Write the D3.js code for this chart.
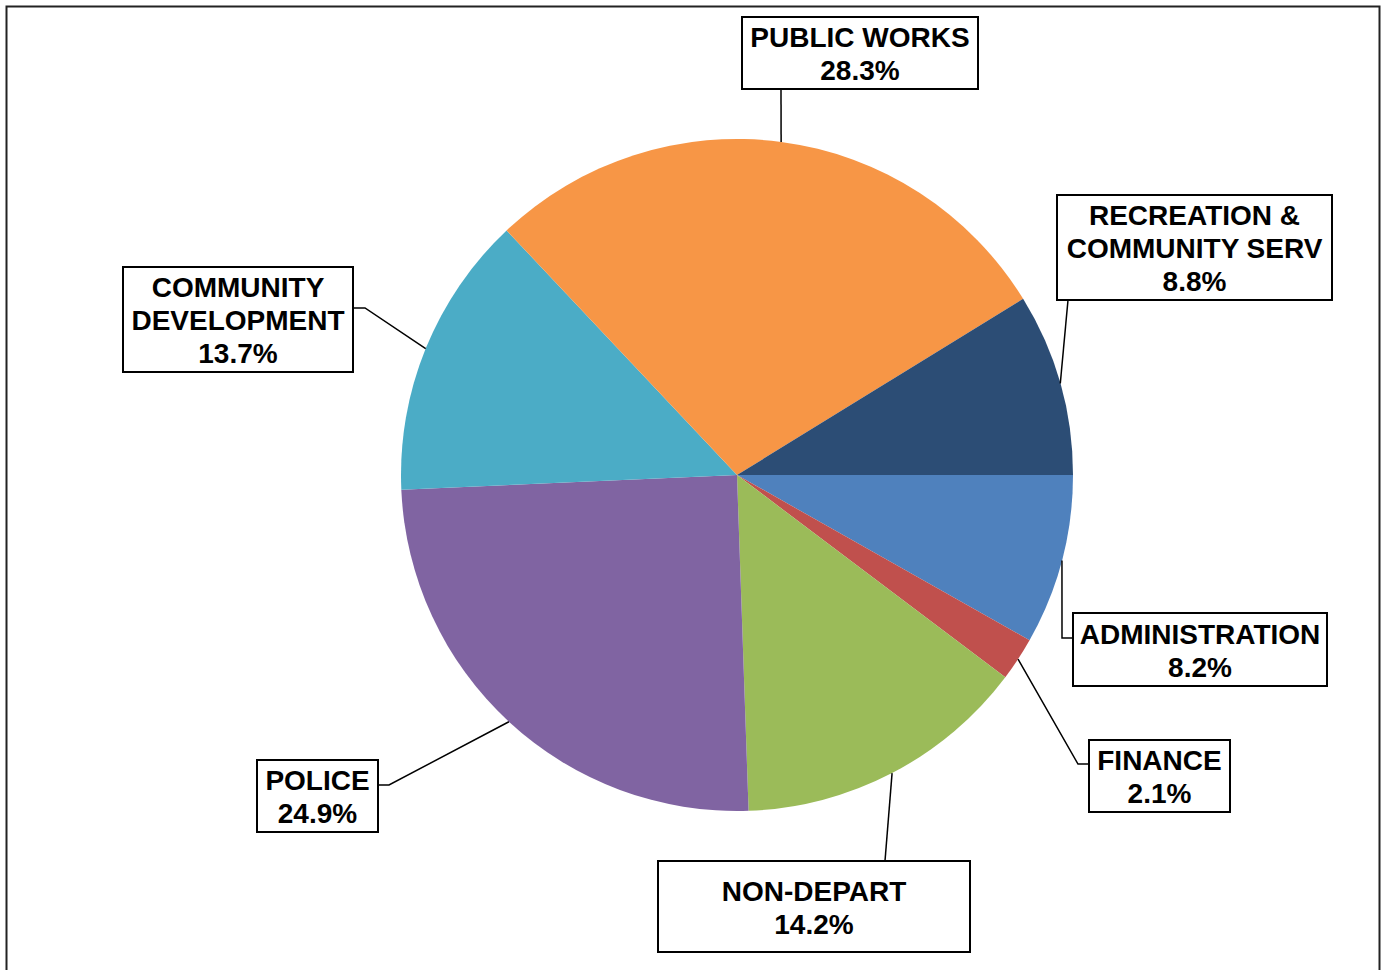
<!DOCTYPE html>
<html>
<head>
<meta charset="utf-8">
<script src="https://cdn.jsdelivr.net/npm/d3@7"></script>
<style>
  html, body { margin: 0; padding: 0; background: #fff; }
  svg { display: block; }
  text { font-family: "Liberation Sans", Arial, sans-serif; font-weight: bold; }
</style>
</head>
<body>
<svg id="chart" width="1383" height="970"></svg>
<script>
// Budget share by department (percent), clockwise from 3 o'clock
const departments = ["ADMINISTRATION", "FINANCE", "NON-DEPART", "POLICE",
                     "COMMUNITY DEVELOPMENT", "PUBLIC WORKS", "RECREATION & COMMUNITY SERV"];
const shares = [8.2, 2.1, 14.2, 24.9, 13.7, 28.3, 8.8];
const labelLines = [
  ["ADMINISTRATION"],
  ["FINANCE"],
  ["NON-DEPART"],
  ["POLICE"],
  ["COMMUNITY", "DEVELOPMENT"],
  ["PUBLIC WORKS"],
  ["RECREATION &", "COMMUNITY SERV"]
];
const sliceColors = ["#4F81BD", "#C0504D", "#9BBB59", "#8064A2", "#4BACC6", "#F79646", "#2C4D75"];

// Callout box placement and leader-line elbows
const callouts = {
  "ADMINISTRATION":              { box: [1073, 613, 254, 73],  elbow: [[1062, 638], [1073, 638]] },
  "FINANCE":                     { box: [1089, 740, 141, 72],  elbow: [[1078, 764], [1089, 764]] },
  "NON-DEPART":                  { box: [658, 861, 312, 91],   elbow: [[885, 861]] },
  "POLICE":                      { box: [257, 760, 121, 72],   elbow: [[389, 785], [378, 785]] },
  "COMMUNITY DEVELOPMENT":       { box: [123, 267, 230, 105],  elbow: [[365, 308], [353, 308]] },
  "PUBLIC WORKS":                { box: [742, 17, 236, 72],    elbow: [[781, 89]] },
  "RECREATION & COMMUNITY SERV": { box: [1057, 195, 275, 105], elbow: [[1068, 300]] }
};

const svg = d3.select("#chart");
const cx = 737, cy = 475, radius = 336;
const fontSize = 28, lineGap = 33;

// Outer frame
svg.append("rect")
  .attr("x", 6.5).attr("y", 6.5)
  .attr("width", 1373).attr("height", 980)
  .attr("fill", "none").attr("stroke", "#222").attr("stroke-width", 2);

const data = departments.map((d, i) => ({ name: d, value: shares[i], lines: labelLines[i], color: sliceColors[i] }));

const pie = d3.pie()
  .sort(null)
  .value(d => d.value)
  .startAngle(Math.PI / 2)
  .endAngle(Math.PI / 2 + 2 * Math.PI);

const arc = d3.arc().innerRadius(0).outerRadius(radius);
const arcs = pie(data);

const g = svg.append("g").attr("transform", `translate(${cx},${cy})`);
g.selectAll("path.slice")
  .data(arcs)
  .join("path")
  .attr("class", "slice")
  .attr("d", arc)
  .attr("fill", d => d.data.color);

// Leader lines: from slice edge at mid-angle through elbow points to the box
const line = d3.line();
arcs.forEach(a => {
  const mid = (a.startAngle + a.endAngle) / 2;
  const px = cx + radius * Math.sin(mid);
  const py = cy - radius * Math.cos(mid);
  const c = callouts[a.data.name];
  svg.append("path")
    .attr("d", line([[px, py], ...c.elbow]))
    .attr("fill", "none")
    .attr("stroke", "#000")
    .attr("stroke-width", 1.5);
});

// Callout boxes
arcs.forEach(a => {
  const c = callouts[a.data.name];
  const [bx, by, bw, bh] = c.box;
  const grp = svg.append("g");
  grp.append("rect")
    .attr("x", bx).attr("y", by)
    .attr("width", bw).attr("height", bh)
    .attr("fill", "#fff").attr("stroke", "#000").attr("stroke-width", 2);
  const lines = [...a.data.lines, d3.format(".1f")(a.data.value) + "%"];
  const midY = by + bh / 2;
  const firstY = midY - (lines.length - 1) * lineGap / 2;
  lines.forEach((t, k) => {
    grp.append("text")
      .attr("x", bx + bw / 2)
      .attr("y", firstY + k * lineGap + 10.5)
      .attr("text-anchor", "middle")
      .attr("font-size", fontSize)
      .attr("fill", "#000")
      .text(t);
  });
});
</script>
</body>
</html>
